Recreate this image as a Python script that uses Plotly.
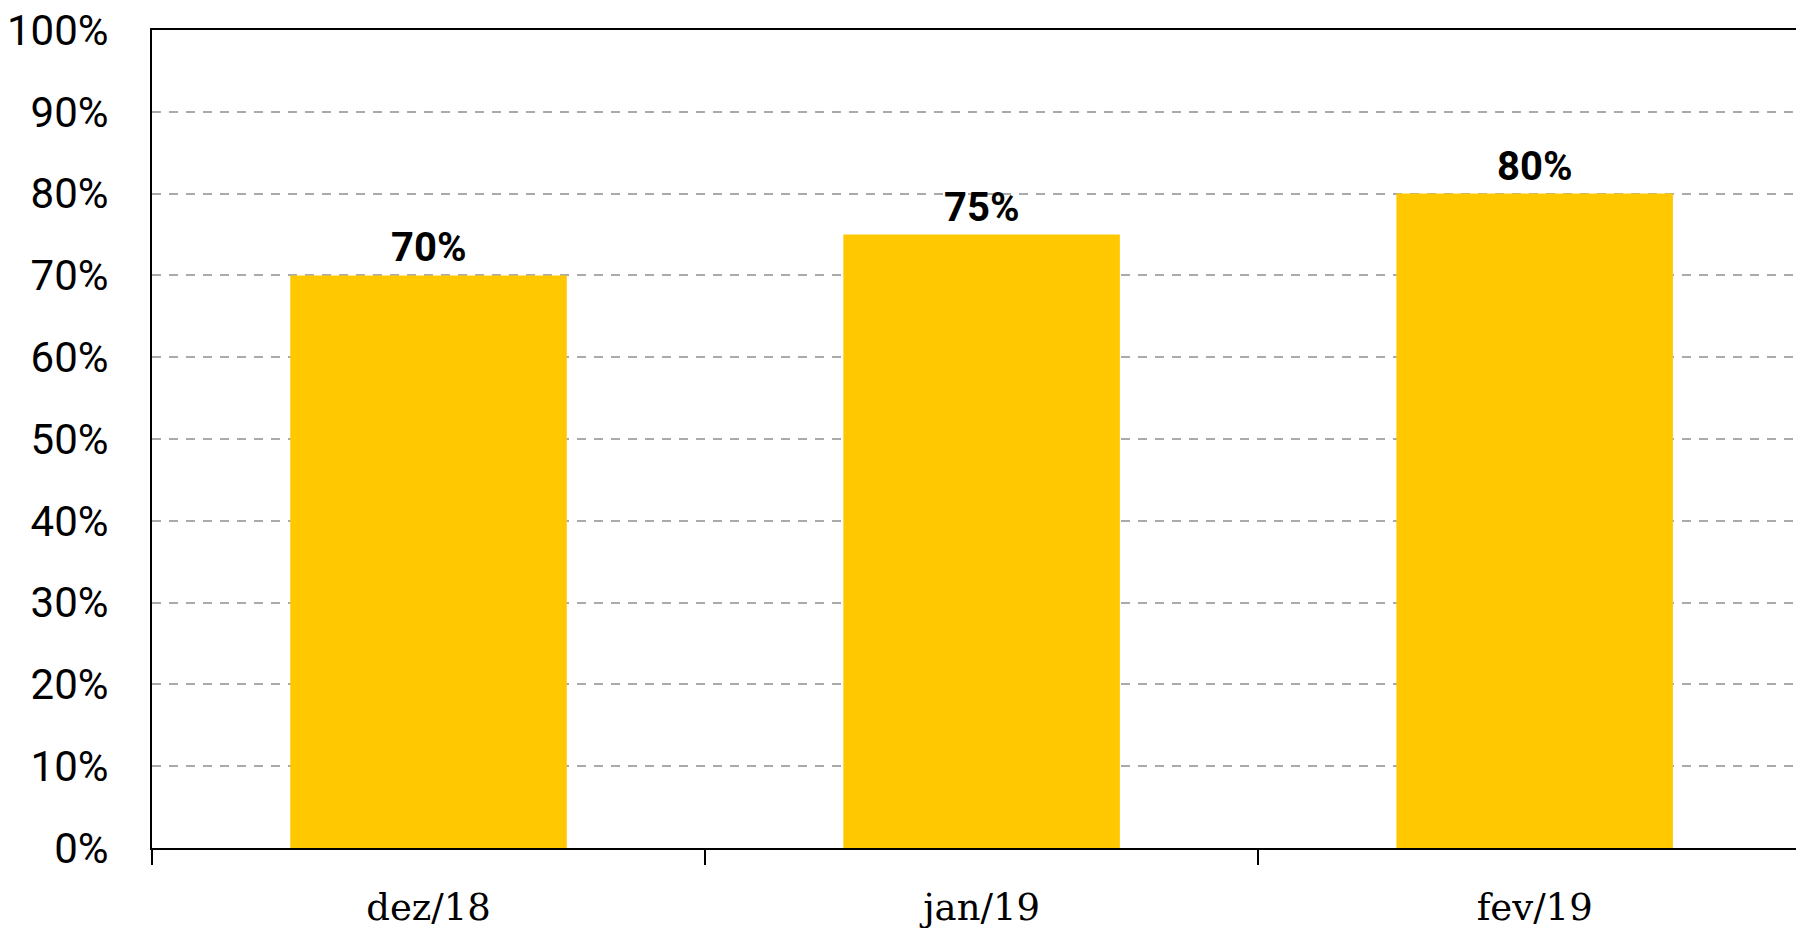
import plotly.graph_objects as go

# data
meses = ["dez/18", "jan/19", "fev/19"]
valores = [70, 75, 80]
rotulos = ["70%", "75%", "80%"]
y_ticks = [0, 10, 20, 30, 40, 50, 60, 70, 80, 90, 100]
y_ticktext = [str(v) + "%" for v in y_ticks]

fig = go.Figure()
fig.add_trace(
    go.Bar(
        x=meses,
        y=valores,
        width=0.5,
        marker=dict(color="#FFC800", line=dict(width=0)),
        showlegend=False,
        hoverinfo="x+y",
    )
)

for m, v, r in zip(meses, valores, rotulos):
    fig.add_annotation(
        x=m,
        y=v,
        text="<b>" + r + "</b>",
        showarrow=False,
        yanchor="bottom",
        yshift=2,
        font=dict(family="Roboto", size=40, color="black"),
    )

# page body has an 8px margin, so the figure is 8px smaller
fig.update_layout(
    width=1796,
    height=920,
    margin=dict(l=144, r=0, t=22, b=80, autoexpand=False),
    plot_bgcolor="white",
    paper_bgcolor="white",
    bargap=0.5,
)

fig.update_xaxes(
    type="category",
    range=[-0.5, 2.487],
    automargin=False,
    showline=True,
    linecolor="black",
    linewidth=2,
    mirror=True,
    ticks="outside",
    tickson="boundaries",
    ticklen=15,
    tickwidth=2,
    tickcolor="black",
    ticklabelstandoff=26,
    showgrid=False,
    tickfont=dict(family="DejaVu Serif", size=37, color="black"),
)

fig.update_yaxes(
    range=[0, 100],
    automargin=False,
    tickmode="array",
    tickvals=y_ticks,
    ticktext=y_ticktext,
    ticklabeloverflow="allow",
    showline=True,
    linecolor="black",
    linewidth=2,
    ticks="",
    ticklabelstandoff=33,
    showgrid=True,
    gridcolor="#aaaaaa",
    gridwidth=2,
    griddash="9px,8px",
    zeroline=False,
    tickfont=dict(family="Roboto", size=42, color="black"),
)

fig.write_html("out.html")
